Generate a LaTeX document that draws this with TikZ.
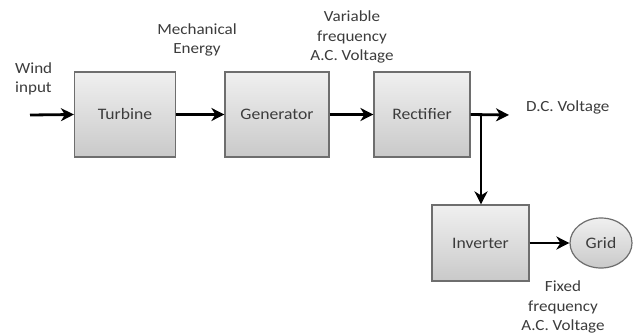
\documentclass[tikz,border=0pt]{standalone}
\usepackage{fontspec}
\setmainfont{Carlito}[FakeStretch=1.1]
\usetikzlibrary{arrows.meta,shapes.geometric}
\definecolor{txt}{HTML}{3C3C3C}
\definecolor{boxline}{HTML}{6E6E6E}
\tikzset{
  blk/.style={draw=boxline, line width=1.2pt, top color=gray!12, bottom color=gray!42,
    font=\fontsize{16}{19}\selectfont, text=txt, inner sep=0pt},
  lbl/.style={font=\fontsize{15.5}{19.5}\selectfont, text=txt, align=center, inner sep=0pt},
  conn/.style={line width=2.8pt, -{Stealth[length=13pt,width=13pt,inset=4pt]}},
}
\begin{document}
\begin{tikzpicture}[x=1pt,y=-1pt]
\useasboundingbox (0,0) rectangle (636,334);
\fill[white] (0,0) rectangle (636,334);
\node[blk, minimum width=101pt, minimum height=85pt] (turb) at (125,114.5) {Turbine};
\node[blk, minimum width=104pt, minimum height=85pt] (gen) at (277,114.5) {Generator};
\node[blk, minimum width=96pt, minimum height=85pt] (rect) at (422,114.5) {Rectifier};
\node[blk, minimum width=97pt, minimum height=76pt] (inv) at (480.5,243) {Inverter};
\node[blk, ellipse, minimum width=62pt, minimum height=50pt] (grid) at (601,243) {Grid};

\coordinate (wind) at (30,115);
\coordinate (dc) at (509,115);
\coordinate (jn) at (481,115);

\node[lbl, align=left, anchor=west] (windl) at (15,79) {Wind\\input};
\node[lbl] (mech) at (197,40) {Mechanical\\Energy};
\node[lbl] (varf) at (352,37) {Variable\\frequency\\A.C. Voltage};
\node[lbl, anchor=west] (dcl) at (526,107) {D.C. Voltage};
\node[lbl] (fixf) at (563,307) {Fixed\\frequency\\A.C. Voltage};

\draw[conn] (wind) -- (turb.west);
\draw[conn] (turb.east) -- (gen.west);
\draw[conn] (gen.east) -- (rect.west);
\draw[conn] (rect.east) -- (dc);
\draw[conn] (jn) -- (inv.north -| jn);
\draw[conn] (inv.east) -- (grid.west);
\end{tikzpicture}
\end{document}
